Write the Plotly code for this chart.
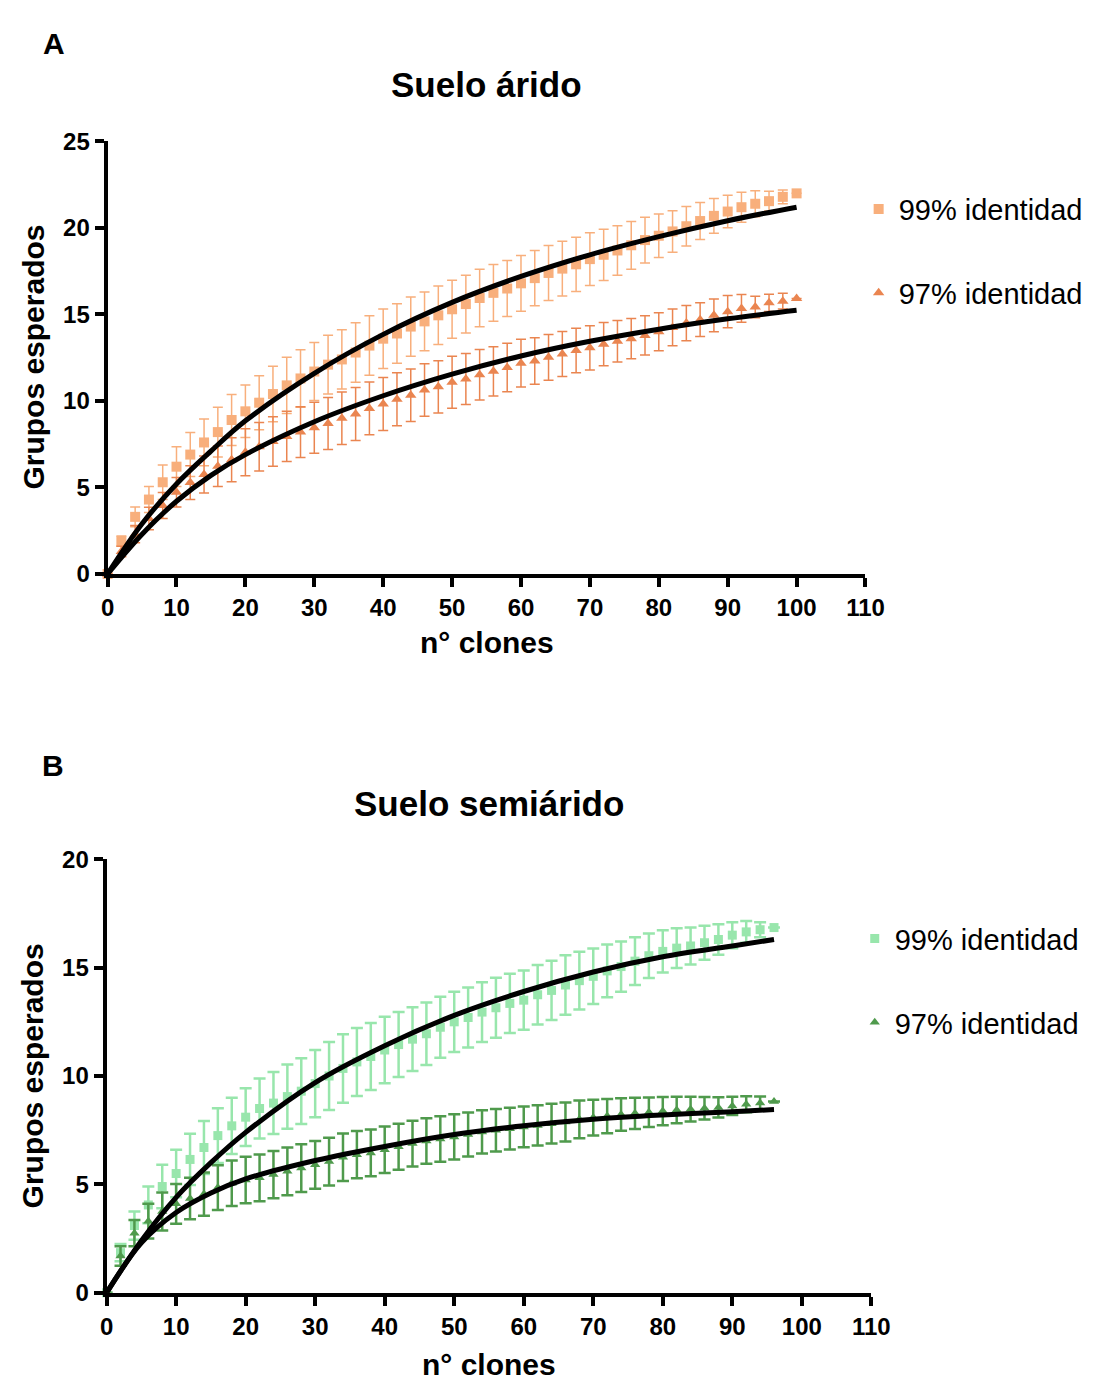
import plotly.graph_objects as go

# ---------------- data ----------------
x_a = list(range(0, 101, 2))
a99 = [0, 1.9, 3.3, 4.3, 5.3, 6.2, 6.9, 7.6, 8.2, 8.9, 9.4, 9.9, 10.4, 10.9, 11.3, 11.7,
       12.1, 12.4, 12.8, 13.2, 13.6, 13.9, 14.3, 14.6, 14.95, 15.3, 15.6, 15.95, 16.25,
       16.5, 16.8, 17.1, 17.4, 17.65, 17.9, 18.2, 18.45, 18.7, 19.0, 19.3, 19.55, 19.8,
       20.1, 20.4, 20.7, 20.95, 21.2, 21.4, 21.55, 21.8, 22.0]
a99_err = [0, 0.3, 0.57, 0.75, 1.0, 1.15, 1.27, 1.35, 1.44, 1.48, 1.52, 1.56, 1.6, 1.63,
           1.66, 1.68, 1.7, 1.71, 1.72, 1.72, 1.72, 1.72, 1.71, 1.7, 1.69, 1.68, 1.67, 1.66,
           1.64, 1.62, 1.61, 1.6, 1.59, 1.58, 1.57, 1.52, 1.48, 1.43, 1.38, 1.32, 1.26, 1.2,
           1.14, 1.07, 1.0, 0.94, 0.87, 0.75, 0.57, 0.4, 0]
a97 = [0, 1.3, 2.3, 3.2, 3.96, 4.72, 5.28, 5.75, 6.22, 6.6, 7.04, 7.35, 7.65, 7.95, 8.2,
       8.45, 8.7, 9.0, 9.25, 9.57, 9.82, 10.1, 10.33, 10.63, 10.82, 11.08, 11.27, 11.52,
       11.71, 11.93, 12.18, 12.31, 12.52, 12.71, 12.92, 13.07, 13.28, 13.45, 13.6, 13.79,
       14.0, 14.25, 14.5, 14.7, 14.95, 15.16, 15.35, 15.43, 15.67, 15.77, 15.92]
a97_err = [0, 0.3, 0.5, 0.65, 0.75, 0.85, 0.97, 1.07, 1.17, 1.27, 1.36, 1.4, 1.43, 1.45,
           1.47, 1.48, 1.5, 1.52, 1.53, 1.53, 1.53, 1.53, 1.52, 1.52, 1.51, 1.5, 1.48, 1.46,
           1.43, 1.4, 1.38, 1.35, 1.32, 1.3, 1.29, 1.28, 1.25, 1.2, 1.16, 1.13, 1.1, 1.06,
           1.02, 0.98, 0.95, 0.93, 0.8, 0.62, 0.5, 0.45, 0]
fit_x_a = [0, 5, 10, 15, 20, 30, 40, 50, 60, 70, 80, 90, 100]
fit_a99 = [0, 2.9, 5.2, 7.1, 8.85, 11.6, 13.85, 15.7, 17.2, 18.45, 19.5, 20.42, 21.2]
fit_a97 = [0, 2.3, 4.2, 5.7, 6.9, 8.8, 10.3, 11.55, 12.6, 13.45, 14.15, 14.75, 15.24]

x_b = list(range(0, 97, 2))
b99 = [0, 1.85, 3.1, 4.05, 4.9, 5.5, 6.15, 6.7, 7.25, 7.7, 8.1, 8.5, 8.75, 9.05, 9.3,
       9.65, 10.0, 10.35, 10.65, 10.9, 11.2, 11.45, 11.7, 11.95, 12.25, 12.5, 12.7, 12.95,
       13.15, 13.35, 13.5, 13.75, 13.95, 14.2, 14.4, 14.6, 14.85, 15.05, 15.3, 15.55,
       15.75, 15.9, 16.0, 16.15, 16.3, 16.5, 16.65, 16.75, 16.85]
b99_err = [0, 0.4, 0.65, 0.85, 1.0, 1.1, 1.18, 1.22, 1.26, 1.3, 1.33, 1.38, 1.43, 1.48,
           1.52, 1.55, 1.57, 1.58, 1.57, 1.55, 1.53, 1.5, 1.47, 1.44, 1.41, 1.39, 1.38,
           1.38, 1.38, 1.37, 1.37, 1.37, 1.37, 1.37, 1.33, 1.28, 1.22, 1.16, 1.1, 1.03,
           0.97, 0.92, 0.85, 0.78, 0.7, 0.6, 0.5, 0.35, 0]
b97 = [0, 1.7, 2.75, 3.3, 3.75, 4.1, 4.35, 4.55, 4.85, 5.05, 5.2, 5.3, 5.45, 5.6, 5.75,
       5.9, 6.05, 6.25, 6.37, 6.45, 6.6, 6.74, 6.88, 7.0, 7.09, 7.19, 7.3, 7.42, 7.5,
       7.57, 7.65, 7.72, 7.8, 7.88, 8.0, 8.08, 8.15, 8.22, 8.28, 8.33, 8.38, 8.43, 8.47,
       8.51, 8.55, 8.62, 8.7, 8.76, 8.82]
b97_err = [0, 0.45, 0.6, 0.8, 0.88, 0.92, 0.96, 1.0, 1.03, 1.05, 1.07, 1.08, 1.09, 1.1,
           1.1, 1.1, 1.1, 1.1, 1.09, 1.08, 1.07, 1.06, 1.06, 1.05, 1.05, 1.04, 1.02, 1.0,
           0.98, 0.96, 0.94, 0.93, 0.92, 0.9, 0.87, 0.83, 0.79, 0.75, 0.72, 0.68, 0.65,
           0.61, 0.57, 0.52, 0.47, 0.42, 0.37, 0.3, 0]
fit_x_b = [0, 5, 10, 15, 20, 30, 40, 50, 60, 70, 80, 90, 96]
fit_b99 = [0, 2.4, 4.4, 6.0, 7.4, 9.7, 11.4, 12.8, 13.9, 14.8, 15.5, 16.0, 16.3]
fit_b97 = [0, 2.3, 3.7, 4.6, 5.25, 6.1, 6.75, 7.3, 7.7, 8.0, 8.2, 8.35, 8.45]

series_names = ["99% identidad", "97% identidad"]
panel_titles = ["Suelo árido", "Suelo semiárido"]
panel_letters = ["A", "B"]
x_ticks = list(range(0, 111, 10))
y_ticks_a = [0, 5, 10, 15, 20, 25]
y_ticks_b = [0, 5, 10, 15, 20]

# ---------------- style ----------------
C_A99 = "#F8AF7C"
C_A97 = "#EA8550"
C_B99 = "#98E6AC"
C_B97 = "#4F9A4C"
FONT = "Liberation Sans, Arial, sans-serif"
W, H = 1114, 1393

fig = go.Figure()


def pts(x, y, err, color, symbol, size, name, xa, ya, legend, ew, et):
    fig.add_trace(go.Scatter(
        x=x, y=y, mode="markers", name=name,
        marker=dict(symbol=symbol, size=size, color=color),
        error_y=dict(type="data", array=err, visible=True, color=color,
                     thickness=et, width=ew),
        xaxis=xa, yaxis=ya, legend=legend, legendgroup=legend + name,
        showlegend=True, cliponaxis=False))


def fit(x, y, xa, ya):
    fig.add_trace(go.Scatter(
        x=x, y=y, mode="lines", line=dict(color="black", width=5, shape="spline"),
        xaxis=xa, yaxis=ya, showlegend=False, hoverinfo="skip", cliponaxis=False))


pts(x_a, a99, a99_err, C_A99, "square", 10, series_names[0], "x", "y", "legend", 5, 1.5)
pts(x_a, a97, a97_err, C_A97, "triangle-up", 10, series_names[1], "x", "y", "legend", 5, 1.5)
fit(fit_x_a, fit_a99, "x", "y")
fit(fit_x_a, fit_a97, "x", "y")

pts(x_b, b99, b99_err, C_B99, "square", 9, series_names[0], "x2", "y2", "legend2", 6, 2.5)
pts(x_b, b97, b97_err, C_B97, "triangle-up", 9, series_names[1], "x2", "y2", "legend2", 6, 2.5)
fit(fit_x_b, fit_b99, "x2", "y2")
fit(fit_x_b, fit_b97, "x2", "y2")

axis_common = dict(showline=True, linecolor="black", linewidth=4, ticks="outside",
                   ticklen=9, tickwidth=4, tickcolor="black", showgrid=False,
                   zeroline=False, tickfont=dict(family=FONT, size=24, color="black",
                                                 weight="bold"))


def px_dom_x(l, r):
    return [l / W, r / W]


def px_dom_y(top, bottom):
    return [1 - bottom / H, 1 - top / H]


fig.update_layout(
    width=W, height=H, margin=dict(l=0, r=0, t=0, b=0),
    paper_bgcolor="white", plot_bgcolor="white",
    xaxis=dict(domain=px_dom_x(103, 879), range=[0, 110], tickvals=x_ticks,
               anchor="y", **axis_common),
    yaxis=dict(domain=px_dom_y(130, 571), range=[0, 25], tickvals=y_ticks_a,
               anchor="x", **axis_common),
    xaxis2=dict(domain=px_dom_x(102, 885), range=[0, 110], tickvals=x_ticks,
                anchor="y2", **axis_common),
    yaxis2=dict(domain=px_dom_y(862, 1304), range=[0, 20], tickvals=y_ticks_b,
                anchor="x2", **axis_common),
    legend=dict(x=872 / W, y=1 - 173 / H, xanchor="left", yanchor="top",
                font=dict(family=FONT, size=29, color="black"),
                tracegroupgap=43, bgcolor="rgba(0,0,0,0)"),
    legend2=dict(x=868 / W, y=1 - 917 / H, xanchor="left", yanchor="top",
                 font=dict(family=FONT, size=29, color="black"),
                 tracegroupgap=43, bgcolor="rgba(0,0,0,0)"),
    showlegend=True,
)

ann = []
bold = dict(family=FONT, color="black", weight="bold")
ann.append(dict(text=panel_letters[0], x=48 / W, y=1 - 30 / H, font=dict(size=30, **bold)))
ann.append(dict(text=panel_letters[1], x=47 / W, y=1 - 766 / H, font=dict(size=30, **bold)))
ann.append(dict(text=panel_titles[0], x=491 / W, y=1 - 72 / H, font=dict(size=35, **bold)))
ann.append(dict(text=panel_titles[1], x=494 / W, y=1 - 805 / H, font=dict(size=35, **bold)))
ann.append(dict(text="n° clones", x=491 / W, y=1 - 641 / H, font=dict(size=30, **bold)))
ann.append(dict(text="n° clones", x=494 / W, y=1 - 1377 / H, font=dict(size=30, **bold)))
ann.append(dict(text="Grupos esperados", x=27 / W, y=1 - 350 / H, textangle=-90,
                font=dict(size=30, **bold)))
ann.append(dict(text="Grupos esperados", x=26 / W, y=1 - 1083 / H, textangle=-90,
                font=dict(size=30, **bold)))
for a in ann:
    a.update(xref="paper", yref="paper", showarrow=False, xanchor="center",
             yanchor="middle")
fig.update_layout(annotations=ann)

fig.write_html("out.html")
